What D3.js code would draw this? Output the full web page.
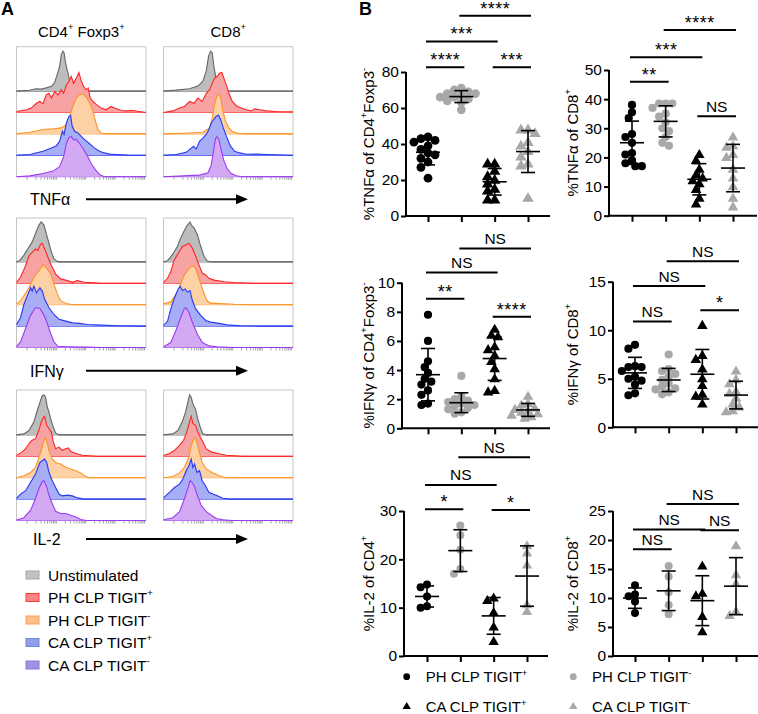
<!DOCTYPE html>
<html><head><meta charset="utf-8">
<script src="https://cdn.jsdelivr.net/npm/d3@7"></script>
<style>body{margin:0;background:#fff} svg{display:block} text{font-family:"Liberation Sans",Arial,sans-serif;fill:#000}</style>
</head><body><svg id="c" width="758" height="714"></svg>
<script>
// ================= DATA =================
const groups = ["PH CLP TIGIT+", "PH CLP TIGIT-", "CA CLP TIGIT+", "CA CLP TIGIT-"];
const histSamples = ["Unstimulated", "PH CLP TIGIT+", "PH CLP TIGIT-", "CA CLP TIGIT+", "CA CLP TIGIT-"];
const cytokines = ["TNFα", "IFNγ", "IL-2"];

// Panel A histograms: [channel (0-100 of display), % of max]
const tnf_cd4_unstim = [[0,0],[10,2],[15,6],[19,5],[23,8],[27,12],[29.5,22],[31.5,42],[33.3,62],[34.6,92],[35.9,100],[36.7,96],[37.9,71],[39,54],[40.3,38],[41.5,12],[42.6,0],[100,0]];
const tnf_cd4_phPos = [[0,2.5],[7.7,6.7],[11.5,11],[15.4,23],[17.9,27.5],[20.5,22],[23,44],[25,48],[27,36],[29.5,52.5],[32,44],[34.6,57],[36.4,48],[38.5,69],[40.5,77.5],[42.3,90],[44.1,73],[46.2,86],[48.2,100],[49.7,82],[51.8,65],[53.8,57],[55.4,61],[56.9,36],[59,27.5],[62,19],[65.4,11],[69.2,6.7],[73,15],[75.6,11],[80.8,5],[84.6,4],[89.7,5],[94.9,2.5],[100,0]];
const tnf_cd4_phNeg = [[0,0],[10.3,4],[20.5,11],[28.2,12.5],[34.6,15],[38.5,23],[41,44],[43.6,69],[46.2,90],[48.7,98],[51.3,100],[53.8,92],[56.4,77.5],[59,57],[61,32],[62.8,11],[65.4,2],[69,0],[100,0]];
const tnf_cd4_caPos = [[0,0],[10.3,2],[20.5,10],[27,18],[30.8,24],[33.3,35],[35.4,60],[36.7,52],[38.5,81],[40.5,97.5],[41.8,100],[43,72.5],[44.9,60],[47.4,56],[50,47.5],[52.6,39],[56.4,29],[60.3,18],[64.1,10],[67.9,6],[71.8,3],[76.9,2],[82,1],[87,0],[100,0]];
const tnf_cd4_caNeg = [[0,0],[10.3,2],[20.5,8],[28.2,14],[33.3,25],[36.4,50],[38.5,83],[40.5,98],[42.3,100],[44.1,92],[46.2,93],[48.7,83],[51.3,71],[54.4,54],[57.7,33],[61,17],[64.6,4],[68,0],[100,0]];

const tnf_cd8_unstim = [[0,0],[9.8,2.5],[20,6],[26.5,12.5],[30.4,25],[33,50],[34.8,87.5],[36.3,100],[37.6,96],[38.9,62.5],[40.2,37.5],[41.5,8],[42.8,0],[100,0]];
const tnf_cd8_phPos = [[0,0],[7.2,4],[12.4,11],[16.2,15],[20.1,27.5],[23.5,23],[26.5,36],[29.9,27.5],[33,48],[35.6,57],[37.6,73],[39.4,86],[41.2,90],[43.3,98],[45.1,100],[46.6,86],[48.5,69],[50.5,48],[53.1,27.5],[56.2,17],[60,11],[63.9,6.7],[67.8,4],[70.4,9],[74.2,6.7],[79.4,4],[87.1,2.5],[100,1.7]];
const tnf_cd8_phNeg = [[0,0],[15,1.7],[30.4,4],[35.6,15],[37.6,40],[39.4,73],[41.2,94],[42.8,100],[44.1,90],[45.9,57],[47.9,32],[50.5,15],[53.6,5],[58.8,1],[64,0],[100,0]];
const tnf_cd8_caPos = [[0,0],[9.8,2],[17.5,7.5],[21.4,18],[23.2,22.5],[25.3,16],[27.8,35],[30.4,43],[33,52],[35,64],[36.9,81],[38.7,89],[40.7,97.5],[42.5,100],[44.1,89],[45.9,71],[48.5,48],[51.5,24],[54.9,10],[58.8,6],[63.9,2.5],[71.6,3],[79.4,2],[100,0]];
const tnf_cd8_caNeg = [[0,0],[15,2],[27.8,4],[34.3,10],[36.9,29],[38.7,67],[40.2,96],[41.2,100],[42.8,92],[44.6,67],[46.4,42],[49,21],[52.3,8],[56.2,2.5],[61,0],[100,0]];

const ifn_cd4_unstim = [[0,0],[2.6,4],[5.7,17],[8.8,33],[12.1,50],[14.7,71],[17.3,92],[19.1,100],[21.2,92],[23.3,67],[25.1,46],[26.9,25],[28.9,8],[31,2],[33,0],[100,0]];
const ifn_cd4_phPos = [[0,2.5],[3.1,15],[7,44],[9.6,69],[12.1,77.5],[14.7,86],[16.5,82],[18.6,98],[19.9,100],[21.7,86],[23.8,69],[25.8,52.5],[27.6,40],[30.2,23],[34.1,11],[39.3,6.7],[43.2,2.5],[47,6.7],[52.2,2.5],[60,1],[65,0],[100,0]];
const ifn_cd4_phNeg = [[0,1.7],[3.1,10],[8.3,35],[13.4,68],[17.3,85],[20.7,100],[23.8,89],[26.4,77],[28.9,52],[31.5,27],[34.1,10],[38,3],[44,0],[100,0]];
const ifn_cd4_caPos = [[0,4],[3.1,21],[5.7,54],[8.3,75],[10.9,96],[12.1,87.5],[13.4,100],[15.5,83],[18.1,96],[19.9,87.5],[21.7,67],[25.1,46],[28.9,29],[32.8,17],[38,12.5],[43.2,8],[48.3,6.7],[54.8,4],[65.1,2.5],[78,1],[100,0]];
const ifn_cd4_caNeg = [[0,2],[3.1,14],[7,47.5],[10.9,81],[14.7,100],[18.1,97.5],[21.2,81],[23.8,60],[26.4,35],[28.9,14],[32,3],[39.3,2],[54,1],[65,0],[100,0]];

const ifn_cd8_unstim = [[0,0],[3.1,3],[6.9,18],[10.8,39],[13.3,60],[15.9,77],[17.9,89],[19.7,97],[20.6,100],[21.5,92],[23.6,85],[26.2,68],[28.7,39],[31.3,14],[33.8,2],[36,0],[100,0]];
const ifn_cd8_phPos = [[0,2.5],[3.1,12.5],[5.6,29],[8.2,58],[12.1,79],[14.6,92],[17.2,96],[19.7,100],[22.3,87.5],[24.9,67],[27.4,46],[30,25],[32.6,21],[35.1,12.5],[39,8],[46.7,4],[54.4,2],[70,0],[100,0]];
const ifn_cd8_phNeg = [[0,2],[5.6,7],[10.8,32],[15.9,73],[19.7,90],[22.3,97],[24.1,94],[26.7,73],[30,40],[33.3,11],[36.4,4],[54.4,1],[67,0],[100,0]];
const ifn_cd8_caPos = [[0,2],[3.1,12],[5.6,43],[8.2,68],[10.8,89],[12.8,100],[14.6,89],[16.7,93],[18.5,85],[20.5,89],[22.3,64],[24.9,43],[28.7,27],[32.6,14],[36.4,10],[41.5,7.5],[49.2,3],[59.5,1],[75,0],[100,0]];
const ifn_cd8_caNeg = [[0,2],[5.6,12.5],[9.5,42],[13.3,75],[15.9,96],[17.2,100],[19.7,87.5],[22.3,62.5],[26.2,33],[30,12.5],[35.1,4],[41.5,2],[54,0],[100,0]];

const il2_cd4_unstim = [[0,0],[5.7,2.5],[9.6,11],[13.4,32],[16,61],[18.1,82],[19.9,98],[21.2,100],[22.5,94],[23.8,69],[25.1,57],[26.4,40],[28.4,19],[30.2,5],[32.8,0],[100,0]];
const il2_cd4_phPos = [[0,2],[4.4,11],[7,19],[9.6,32],[12.1,40],[14.7,44],[17.3,65],[19.1,86],[20.7,97],[21.7,100],[23.3,77.5],[25.1,69],[26.9,61],[28.4,36],[30.2,19],[32.8,23],[35.4,15],[38,19],[39.8,21],[41.9,12.5],[45.7,7],[50.9,2.5],[62,0],[100,0]];
const il2_cd4_phNeg = [[0,0],[5.7,5],[10.9,13],[14.7,26],[18.6,63],[20.7,88],[22,100],[23.3,92.5],[25.1,67.5],[27.6,47],[30.2,38],[34.1,34],[38,26],[41.9,22],[45.7,17.5],[49.6,12],[53.5,3],[56,0],[100,0]];
const il2_cd4_caPos = [[0,2],[3.1,12.5],[7,21],[10.9,42],[14.7,62.5],[18.1,92],[19.9,96],[21.7,100],[23.3,92],[25.1,67],[27.6,46],[30.2,29],[32.8,12.5],[35.4,8],[39.3,10],[43.2,8],[47,3],[52,0],[100,0]];
const il2_cd4_caNeg = [[0,1],[5.7,7],[10.9,26],[14.7,55],[17.3,80],[19.9,97],[21.2,100],[23.3,84],[25.1,63],[27.6,42.5],[30.2,23],[34.1,17.5],[38,17.5],[41.9,13],[45.7,9],[49.6,2.5],[54,0],[100,0]];

const il2_cd8_unstim = [[0,0],[7.2,2.5],[11.1,11],[14.4,32],[17,57],[18.8,82],[20.1,100],[21.4,94],[22.7,77.5],[24.7,65],[26.5,40],[28.4,19],[30.4,2.5],[33,0],[100,0]];
const il2_cd8_phPos = [[0,2],[4.6,7],[8.5,15],[12.4,27.5],[15.5,40],[18,61],[20.1,86],[21.4,100],[22.7,82],[24.7,77.5],[26.5,61],[28.4,48],[30.4,36],[33,19],[36.9,11],[42,7],[48.5,2.5],[61,0],[100,0]];
const il2_cd8_phNeg = [[0,0],[7.2,3],[12.4,12],[16.2,26],[19.6,51],[21.4,80],[23.2,97],[24.5,100],[25.8,88],[27.8,63],[29.9,38],[33,22],[38.1,12],[43.3,5],[48,0],[100,0]];
const il2_cd8_caPos = [[0,3],[4.6,17],[8.5,29],[12.4,37.5],[14.9,50],[17.5,71],[19.6,83],[21.4,100],[22.7,79],[24,87.5],[25.8,67],[27.8,71],[29.9,46],[32.5,33],[35,17],[38.1,12.5],[42,8],[45.9,2],[51,0],[100,0]];
const il2_cd8_caNeg = [[0,2],[7.2,7],[12.4,22],[16.2,55],[18.8,80],[20.6,100],[22.2,95],[24,84],[26.5,59],[29.1,38],[33,22],[36.9,13],[40.7,5],[45.9,2],[53,0],[100,0]];

// Panel B: % cytokine+ per mouse, groups in order of `groups`
const tnfCD4 = [
  [44,43,42,41,39,37,35,34,32,30,27,21],
  [71,70,69,68,68,67,66,66,65,64,63,59],
  [29,29,25,22,20,18,15,14,9,9],
  [48,48,46,41,39,36,33,29,28,10]
];
const tnfCD8 = [
  [38,35.5,33.5,28,27,25,21.5,21,19,18,17,17],
  [38.5,38.5,38.5,37,35,34,32,30,29,27,25,24],
  [21,19,16,14,13,12,11,9,6,4],
  [27,24,23.5,21,20,16,13,10,6,3]
];
const ifnCD4 = [
  [7.8,6.0,4.6,4.2,3.8,3.4,3.2,3.0,2.6,2.3,1.7,1.6],
  [3.6,2.2,2.0,1.9,1.8,1.7,1.6,1.5,1.4,1.3,1.1,1.0],
  [6.8,6.4,6.3,5.6,5.4,5.0,4.6,4.1,3.4,2.6,2.5],
  [2.2,1.7,1.6,1.4,1.3,1.2,1.1,1.0,0.9,0.8,0.7]
];
const ifnCD8 = [
  [8.5,8.1,6.3,6.2,6.2,5.8,5.2,5.0,4.8,4.4,3.5,3.3],
  [7.5,6.0,5.8,5.5,5.2,4.9,4.5,4.2,4.0,3.9,3.6,3.4],
  [10.5,7.4,7.0,6.0,5.0,4.3,3.4,3.2,2.4],
  [5.8,4.9,4.5,3.7,3.5,3.0,2.4,2.1,1.7,1.6]
];
const il2CD4 = [
  [14.8,14.2,12.3,10.3,10.0],
  [27,25,22,18,17],
  [12,11.5,9,6,3],
  [22.8,21.3,18.8,10.6,9.2]
];
const il2CD8 = [
  [12.2,10.6,10.3,9.4,7.4],
  [15.5,13.7,11.0,8.8,7.2],
  [15.5,10.8,10.4,6.8,4.2],
  [19,14,12.5,7.7,7.0]
];

// tick labels
const tnfCD4Ticks = [0,20,40,60,80];
const tnfCD8Ticks = [0,10,20,30,40,50];
const ifnCD4Ticks = [0,2,4,6,8,10];
const ifnCD8Ticks = [0,5,10,15];
const il2CD4Ticks = [0,10,20,30];
const il2CD8Ticks = [0,5,10,15,20,25];

// significance: [group a, group b, label, bracket height in axis units]
const tnfCD4Sig = [[0,1,"****",82.6],[0,2,"***",97],[1,3,"****",111.3],[2,3,"***",82.6]];
const tnfCD8Sig = [[0,1,"**",46],[0,2,"***",54.4],[1,3,"****",63.7],[2,3,"NS",34.1]];
const ifnCD4Sig = [[0,1,"**",8.9],[0,2,"NS",10.7],[1,3,"NS",12.35],[2,3,"****",7.66]];
const ifnCD8Sig = [[0,1,"NS",10.9],[0,2,"NS",14.55],[1,3,"NS",17.1],[2,3,"*",12.05]];
const il2CD4Sig = [[0,1,"*",30.35],[0,2,"NS",35.4],[1,3,"NS",41.1],[2,3,"*",30.2]];
const il2CD8Sig = [[0,1,"NS",18.4],[0,2,"NS",21.8],[1,3,"NS",26.2],[2,3,"NS",21.7]];

// ================= DRAWING =================
const svg = d3.select("#c");
const FONT = '"Liberation Sans", Arial, sans-serif';

function rich(sel, parts, fs) {
  let prevSup = false;
  parts.forEach(([t, sup]) => {
    const ts = sel.append("tspan").text(t);
    if (sup) { ts.attr("font-size", fs*0.62).attr("dy", -fs*0.42); }
    else { ts.attr("font-size", fs); if (prevSup) ts.attr("dy", fs*0.42); }
    prevSup = sup;
  });
}

// ---- Panel A ----
svg.append("text").attr("x",1).attr("y",15).attr("font-size",18).attr("font-weight",900).text("A");
svg.append("text").attr("x",359).attr("y",15).attr("font-size",18).attr("font-weight",900).text("B");

const histColors = [
  {stroke:"#666666", fill:"#bdbdbd"},
  {stroke:"#ff2424", fill:"#f7a3a3"},
  {stroke:"#ff9326", fill:"#fcd1a6"},
  {stroke:"#2638f2", fill:"#a8aef5"},
  {stroke:"#9a3cf0", fill:"#d4a9f3"}
];
const histData = [
  [[tnf_cd4_unstim,tnf_cd4_phPos,tnf_cd4_phNeg,tnf_cd4_caPos,tnf_cd4_caNeg],
   [tnf_cd8_unstim,tnf_cd8_phPos,tnf_cd8_phNeg,tnf_cd8_caPos,tnf_cd8_caNeg]],
  [[ifn_cd4_unstim,ifn_cd4_phPos,ifn_cd4_phNeg,ifn_cd4_caPos,ifn_cd4_caNeg],
   [ifn_cd8_unstim,ifn_cd8_phPos,ifn_cd8_phNeg,ifn_cd8_caPos,ifn_cd8_caNeg]],
  [[il2_cd4_unstim,il2_cd4_phPos,il2_cd4_phNeg,il2_cd4_caPos,il2_cd4_caNeg],
   [il2_cd8_unstim,il2_cd8_phPos,il2_cd8_phNeg,il2_cd8_caPos,il2_cd8_caNeg]]
];
const boxLeft = [16.5, 163.5], boxW = 129.5;
const boxTop = [46.7, 218, 390], boxBottom = [176.7, 347.5, 520.5];
const laneGap = 21.4, peakH = 40;
const arrowY = [199.3, 370.7, 539];
const labelX = [30, 30, 33];

const colTitles = [[["CD4",0],["+",1],[" Foxp3",0],["+",1]], [["CD8",0],["+",1]]];
colTitles.forEach((p, c) => {
  const t = svg.append("text").attr("x", boxLeft[c]+boxW/2).attr("y", 36.5).attr("text-anchor","middle");
  rich(t, p, 15);
});

histData.forEach((row, r) => {
  row.forEach((curves, c) => {
    const g = svg.append("g");
    const x = d3.scaleLinear().domain([0,100]).range([boxLeft[c], boxLeft[c]+boxW]);
    const h = d3.scaleLinear().domain([0,100]).range([0, peakH]);
    g.append("path").attr("d", `M${x(0)},${boxBottom[r]}V${boxTop[r]}H${x(100)}V${boxBottom[r]}`)
      .attr("fill","none").attr("stroke","#c4c4c4").attr("stroke-width",1);
    curves.forEach((cv, k) => {
      const base = boxBottom[r] - (4-k)*laneGap;
      const col = histColors[k];
      const area = d3.area().x(d=>x(d[0])).y0(base).y1(d=>base - h(d[1]));
      const line = d3.line().x(d=>x(d[0])).y(d=>base - h(d[1]));
      g.append("line").attr("x1",x(0)).attr("x2",x(100)).attr("y1",base).attr("y2",base)
        .attr("stroke",col.stroke).attr("stroke-width",1);
      g.append("path").datum(cv).attr("d",area).attr("fill",col.fill).attr("stroke","none");
      g.append("path").datum(cv).attr("d",line).attr("fill","none").attr("stroke",col.stroke).attr("stroke-width",1.1);
    });
    const lx = d3.scaleLog().domain([10,1e5]).range([boxLeft[c]+10, boxLeft[c]+boxW-2]);
    const ax = d3.axisBottom(lx).tickValues(lx.ticks()).tickSize(2.5).tickFormat("");
    const ag = g.append("g").attr("transform",`translate(0,${boxBottom[r]+0.5})`).call(ax);
    ag.select(".domain").remove();
    ag.selectAll(".tick line").attr("stroke","#8a8a8a").attr("stroke-width",0.8);
  });
  svg.append("text").attr("x",labelX[r]).attr("y",arrowY[r]+6).attr("font-size",16).text(cytokines[r]);
  svg.append("line").attr("x1",86).attr("x2",238).attr("y1",arrowY[r]).attr("y2",arrowY[r])
    .attr("stroke","#000").attr("stroke-width",2);
  svg.append("path").attr("d",`M248,${arrowY[r]}L236,${arrowY[r]-5}L236,${arrowY[r]+5}Z`).attr("fill","#000");
});

const legA = [
  {fill:"#c2c2c2", stroke:"#a6a6a6"},
  {fill:"#ff8585", stroke:"#ff3838"},
  {fill:"#fcbf8c", stroke:"#f7a060"},
  {fill:"#8fa0e8", stroke:"#6e86e0"},
  {fill:"#a192e4", stroke:"#8676d8"}
];
const legALabels = [[["Unstimulated",0]],[["PH CLP TIGIT",0],["+",1]],[["PH CLP TIGIT",0],["-",1]],[["CA CLP TIGIT",0],["+",1]],[["CA CLP TIGIT",0],["-",1]]];
histSamples.forEach((s, i) => {
  const cy = 575 + i*22.5;
  svg.append("rect").attr("x",26).attr("y",cy-4).attr("width",13).attr("height",8)
    .attr("fill",legA[i].fill).attr("stroke",legA[i].stroke).attr("stroke-width",1);
  const t = svg.append("text").attr("x",48).attr("y",cy+5.5);
  rich(t, legALabels[i], 15.5);
});

// ---- Panel B ----
const markerFill = ["#000","#a8a8a8","#000","#a8a8a8"];
const markerShape = [d3.symbolCircle, d3.symbolCircle, d3.symbolTriangle, d3.symbolTriangle];

const plots = [
  {data:tnfCD4, ticks:tnfCD4Ticks, sig:tnfCD4Sig, ax:406, c0:428, c1:528, xEnd:550, yb:216, yt:72, lx:368, r:4.4,
   label:[["%TNFα of CD4",0],["+",1],["Foxp3",0],["-",1]]},
  {data:tnfCD8, ticks:tnfCD8Ticks, sig:tnfCD8Sig, ax:609, c0:632, c1:733, xEnd:757, yb:215.7, yt:70, lx:572, r:4.1,
   label:[["%TNFα of CD8",0],["+",1]]},
  {data:ifnCD4, ticks:ifnCD4Ticks, sig:ifnCD4Sig, ax:402, c0:428, c1:528, xEnd:550, yb:428.3, yt:282.7, lx:368, r:4.1,
   label:[["%IFNγ of CD4",0],["+",1],["Foxp3",0],["-",1]]},
  {data:ifnCD8, ticks:ifnCD8Ticks, sig:ifnCD8Sig, ax:613, c0:635, c1:736, xEnd:758, yb:427.3, yt:281.7, lx:572, r:4.1,
   label:[["%IFNγ of CD8",0],["+",1]]},
  {data:il2CD4, ticks:il2CD4Ticks, sig:il2CD4Sig, ax:404, c0:427, c1:527, xEnd:548, yb:656, yt:511, lx:368, r:4,
   label:[["%IL-2 of CD4",0],["+",1]]},
  {data:il2CD8, ticks:il2CD8Ticks, sig:il2CD8Sig, ax:613, c0:635, c1:736, xEnd:758, yb:656, yt:511, lx:572, r:4,
   label:[["%IL-2 of CD8",0],["+",1]]}
];

function swarm(vals, y, cx, r) {
  const pts = vals.map(v => ({v, y: y(v)})).sort((a,b) => a.y - b.y);
  const placed = [];
  const step = r*0.8;
  pts.forEach(p => {
    for (let k = 0; k < 60; k++) {
      const off = k === 0 ? 0 : (k % 2 ? -1 : 1) * Math.ceil(k/2) * step;
      const ok = placed.every(q => Math.hypot(q.x - (cx+off), q.y - p.y) >= 1.55*r);
      if (ok) { p.x = cx + off; break; }
    }
    placed.push(p);
  });
  return placed;
}

plots.forEach(P => {
  const g = svg.append("g");
  const maxT = P.ticks[P.ticks.length-1];
  const y = d3.scaleLinear().domain([0, maxT]).range([P.yb, P.yt]);
  const x = d3.scalePoint().domain(groups).range([P.c0, P.c1]);

  const ya = g.append("g").attr("transform",`translate(${P.ax},0)`)
    .call(d3.axisLeft(y).tickValues(P.ticks).tickSize(5).tickSizeOuter(0).tickPadding(2));
  ya.select(".domain").attr("stroke-width",2).attr("d",`M0,${P.yb+1}V${P.yt}`);
  ya.selectAll(".tick line").attr("stroke-width",2);
  ya.selectAll(".tick text").attr("font-size",15.5).attr("font-family",FONT).attr("fill","#000");

  const xa = g.append("g").attr("transform",`translate(0,${P.yb})`)
    .call(d3.axisBottom(x).tickSize(6).tickSizeOuter(0).tickFormat(""));
  xa.select(".domain").attr("stroke-width",2).attr("d",`M${P.ax-1},0H${P.xEnd}`);
  xa.selectAll(".tick line").attr("stroke-width",2);

  const lt = g.append("text").attr("transform",`translate(${P.lx},${(P.yb+P.yt)/2}) rotate(-90)`)
    .attr("text-anchor","middle").attr("dy","0.35em");
  rich(lt, P.label, 15);

  P.data.forEach((vals, gi) => {
    const cx = x(groups[gi]);
    const pts = swarm(vals, y, cx, P.r);
    const sym = d3.symbol().type(markerShape[gi]).size(markerShape[gi] === d3.symbolCircle ? Math.PI*P.r*P.r : 2.9*P.r*P.r);
    g.selectAll(null).data(pts).join("path")
      .attr("transform", d => `translate(${d.x},${d.y + (gi>=2 ? 0.5 : 0)})`)
      .attr("d", sym()).attr("fill", markerFill[gi]);
    const m = d3.mean(vals), sd = d3.deviation(vals);
    const eb = g.append("g").attr("stroke", "#000").attr("stroke-width",1.6);
    eb.append("line").attr("x1",cx-12).attr("x2",cx+12).attr("y1",y(m)).attr("y2",y(m));
    eb.append("line").attr("x1",cx).attr("x2",cx).attr("y1",y(m+sd)).attr("y2",y(m-sd));
    eb.append("line").attr("x1",cx-7).attr("x2",cx+7).attr("y1",y(m+sd)).attr("y2",y(m+sd));
    eb.append("line").attr("x1",cx-7).attr("x2",cx+7).attr("y1",y(m-sd)).attr("y2",y(m-sd));
  });

  P.sig.forEach(([a, b, lab, h]) => {
    const x1 = x(groups[a]) - 2, x2 = x(groups[b]) + 3, yy = y(h);
    g.append("line").attr("x1",x1).attr("x2",x2).attr("y1",yy).attr("y2",yy)
      .attr("stroke","#000").attr("stroke-width",2);
    const isStar = lab.includes("*");
    g.append("text").attr("x",(x1+x2)/2).attr("y", isStar ? yy-1 : yy-4.5)
      .attr("text-anchor","middle").attr("font-size", isStar ? 18 : 15.5)
      .attr("letter-spacing", isStar ? 0.5 : 0).text(lab);
  });
});

const legB = [
  {x:406.7, y:676.7, tx:425.7, gi:0, label:[["PH CLP TIGIT",0],["+",1]]},
  {x:573.3, y:676.7, tx:592, gi:1, label:[["PH CLP TIGIT",0],["-",1]]},
  {x:406.7, y:706.7, tx:425.7, gi:2, label:[["CA CLP TIGIT",0],["+",1]]},
  {x:573.3, y:706.7, tx:592, gi:3, label:[["CA CLP TIGIT",0],["-",1]]}
];
legB.forEach(L => {
  const sym = d3.symbol().type(markerShape[L.gi]).size(markerShape[L.gi] === d3.symbolCircle ? 36 : 30);
  svg.append("path").attr("transform",`translate(${L.x},${L.y})`).attr("d",sym()).attr("fill",markerFill[L.gi]);
  const t = svg.append("text").attr("x",L.tx).attr("y",L.y+5.5);
  rich(t, L.label, 15);
});
</script></body></html>
